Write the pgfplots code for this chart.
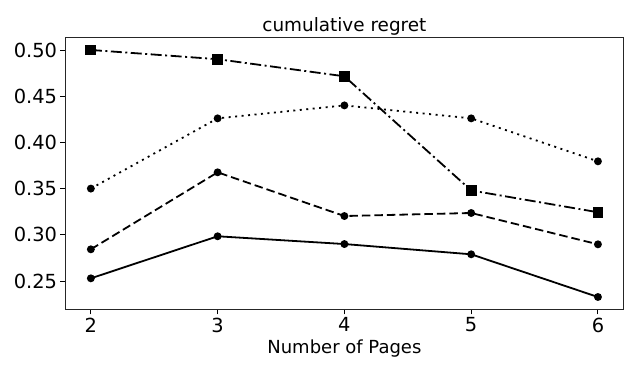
\documentclass[border=0pt]{standalone}
\usepackage{pgfplots}
\pgfplotsset{compat=1.18}
\usepackage{fontspec}
\setmainfont{DejaVu Sans}
\begin{document}
\begin{tikzpicture}
\useasboundingbox (-65.5pt,-64.7pt) rectangle (575.5pt,309.3pt);
\begin{axis}[
    scale only axis,
    width=557.8pt, height=272pt,
    xmin=1.8, xmax=6.2,
    ymin=0.2194, ymax=0.5137,
    xtick={2,3,4,5,6},
    ytick={0.25,0.30,...,0.51},
    yticklabel style={/pgf/number format/.cd, fixed, fixed zerofill, precision=2},
    /pgf/number format/assume math mode=true,
    tick align=outside,
    major tick length=5pt,
    tick style={black, line width=0.9pt},
    xtick pos=bottom, ytick pos=left,
    axis line style={line width=0.9pt, black!85},
    ticklabel style={font=\fontsize{19.4}{22}\selectfont},
    xlabel={Number of Pages},
    xlabel style={font=\fontsize{18}{21}\selectfont, yshift=0pt},
    title={cumulative regret},
    title style={font=\fontsize{18.4}{21}\selectfont, yshift=-8pt},
    every axis plot/.append style={line width=1.8pt, black},
]
% dash-dot, squares
\addplot[mark=square*, mark size=4.5pt, dash pattern=on 11pt off 3.5pt on 2pt off 3.5pt, mark options={solid}] coordinates {
    (2,0.500) (3,0.490) (4,0.4715) (5,0.348) (6,0.3244)
};
% dotted
\addplot[mark=*, mark size=3pt, dash pattern=on 2pt off 4.5pt, mark options={solid}] coordinates {
    (2,0.350) (3,0.426) (4,0.440) (5,0.426) (6,0.3795)
};
% dashed
\addplot[mark=*, mark size=3pt, dash pattern=on 8.5pt off 4pt, mark options={solid}] coordinates {
    (2,0.2843) (3,0.3676) (4,0.3203) (5,0.3236) (6,0.2897)
};
% solid
\addplot[mark=*, mark size=3pt] coordinates {
    (2,0.2529) (3,0.2984) (4,0.2900) (5,0.2789) (6,0.2327)
};
\end{axis}
\end{tikzpicture}
\end{document}
